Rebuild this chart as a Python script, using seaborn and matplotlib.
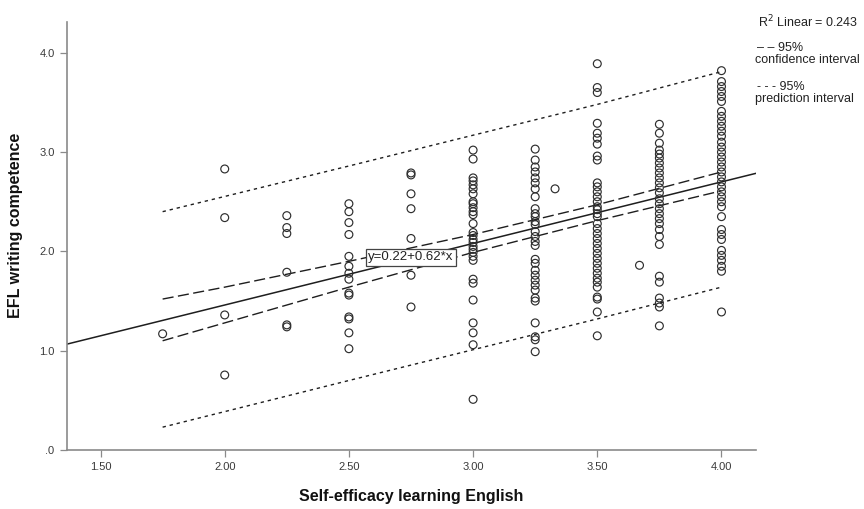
import numpy as np
import pandas as pd
import matplotlib
matplotlib.use("Agg")
import matplotlib.pyplot as plt
import seaborn as sns

# ---------------- data ----------------
x_175 = [1.17]
x_200 = [2.83, 2.34, 1.36, 0.755]
x_225 = [2.36, 2.24, 2.18, 1.79, 1.26, 1.24]
x_250 = [2.48, 2.40, 2.29, 2.17, 1.95, 1.85, 1.78, 1.72, 1.58, 1.56, 1.34, 1.32, 1.18, 1.02]
x_275 = [2.79, 2.77, 2.58, 2.43, 2.13, 1.76, 1.44]
x_300 = [3.02, 2.93, 2.74, 2.71, 2.67, 2.63, 2.58, 2.50, 2.48, 2.44, 2.40, 2.37, 2.28, 2.19,
         2.16, 2.12, 2.09, 2.05, 2.02, 1.99, 1.95, 1.91, 1.72, 1.68, 1.51, 1.28, 1.18, 1.06, 0.51]
x_325 = [3.03, 2.92, 2.85, 2.80, 2.74, 2.69, 2.63, 2.55, 2.43, 2.38, 2.35, 2.30, 2.27, 2.20,
         2.15, 2.10, 2.06, 1.92, 1.88, 1.81, 1.76, 1.71, 1.66, 1.61, 1.53, 1.50, 1.28, 1.14, 1.11, 0.99]
x_333 = [2.63]
x_350 = [3.89, 3.65, 3.60, 3.29, 3.19, 3.14, 3.08, 2.96, 2.92, 2.69, 2.65, 2.60, 2.55, 2.50,
         2.45, 2.42, 2.38, 2.35, 2.28, 2.23, 2.18, 2.13, 2.08, 2.03, 1.98, 1.93, 1.88, 1.83,
         1.78, 1.73, 1.69, 1.64, 1.54, 1.52, 1.39, 1.15]
x_367 = [1.86]
x_375 = [3.28, 3.19, 3.09, 3.02, 2.98, 2.94, 2.89, 2.84, 2.79, 2.74, 2.69, 2.64, 2.59, 2.53,
         2.48, 2.43, 2.38, 2.33, 2.28, 2.22, 2.15, 2.07, 1.75, 1.69, 1.53, 1.48, 1.44, 1.25]
x_400 = [3.82, 3.71, 3.66, 3.61, 3.56, 3.51, 3.41, 3.36, 3.31, 3.26, 3.21, 3.16, 3.10, 3.05,
         3.00, 2.95, 2.90, 2.85, 2.80, 2.75, 2.70, 2.65, 2.60, 2.55, 2.50, 2.45, 2.35, 2.22,
         2.17, 2.12, 2.01, 1.96, 1.91, 1.85, 1.80, 1.39]

efficacy_levels = [1.75, 2.00, 2.25, 2.50, 2.75, 3.00, 3.25, 3.33, 3.50, 3.67, 3.75, 4.00]
writing_by_level = [x_175, x_200, x_225, x_250, x_275, x_300, x_325, x_333, x_350, x_367, x_375, x_400]

# fitted line  y = a + b*x
fit_intercept = 0.22
fit_slope = 0.62
r2_linear = 0.243

# 95% confidence interval for the mean
ci_x = [1.75, 2.00, 2.50, 3.00, 3.50, 4.00]
ci_upper = [1.52, 1.64, 1.90, 2.17, 2.47, 2.80]
ci_lower = [1.10, 1.28, 1.64, 1.99, 2.31, 2.61]

# 95% prediction interval
pi_x = [1.75, 2.50, 3.00, 3.50, 4.00]
pi_upper = [2.40, 2.86, 3.17, 3.48, 3.81]
pi_lower = [0.23, 0.70, 1.01, 1.32, 1.64]

x_ticks = [1.50, 2.00, 2.50, 3.00, 3.50, 4.00]
x_tick_labels = ["1.50", "2.00", "2.50", "3.00", "3.50", "4.00"]
y_ticks = [0, 1, 2, 3, 4]
y_tick_labels = [".0", "1.0", "2.0", "3.0", "4.0"]

x_title = "Self-efficacy learning English"
y_title = "EFL writing competence"

# ---------------- build frames ----------------
rows = []
for lvl, vals in zip(efficacy_levels, writing_by_level):
    for v in vals:
        rows.append((lvl, v))
df = pd.DataFrame(rows, columns=["efficacy", "writing"])

x_min, x_max = 1.365, 4.139
y_min, y_max = 0.0, 4.31

fit_df = pd.DataFrame({"x": [x_min, x_max]})
fit_df["y"] = fit_intercept + fit_slope * fit_df["x"]

# ---------------- style ----------------
sns.set_theme(style="white")
plt.rcParams["font.family"] = ["Liberation Sans", "DejaVu Sans"]
plt.rcParams["lines.scale_dashes"] = False

W, H = 864, 509
fig = plt.figure(figsize=(W / 100, H / 100), dpi=100)
ax = fig.add_axes([67 / W, (H - 450) / H, (756 - 67) / W, (450 - 22) / H])

line_col = "#1e1e1e"
sns.lineplot(data=fit_df, x="x", y="y", ax=ax, color=line_col, linewidth=1.1,
             estimator=None, sort=False)
sns.lineplot(x=ci_x, y=ci_upper, ax=ax, color=line_col, linewidth=1.0,
             estimator=None, sort=False).lines[-1].set_dashes((8, 3.2))
sns.lineplot(x=ci_x, y=ci_lower, ax=ax, color=line_col, linewidth=1.0,
             estimator=None, sort=False).lines[-1].set_dashes((8, 3.2))
sns.lineplot(x=pi_x, y=pi_upper, ax=ax, color=line_col, linewidth=1.0,
             estimator=None, sort=False).lines[-1].set_dashes((2.4, 2.8))
sns.lineplot(x=pi_x, y=pi_lower, ax=ax, color=line_col, linewidth=1.0,
             estimator=None, sort=False).lines[-1].set_dashes((2.4, 2.8))

sns.scatterplot(data=df, x="efficacy", y="writing", ax=ax, s=32, marker="o",
                facecolor="none", edgecolor="#2e2e2e", linewidth=0.85, zorder=3)

ax.set_xlim(x_min, x_max)
ax.set_ylim(y_min, y_max)
ax.set_xticks(x_ticks)
ax.set_xticklabels(x_tick_labels)
ax.set_yticks(y_ticks)
ax.set_yticklabels(y_tick_labels)
ax.set_xlabel("")
ax.set_ylabel("")

for s in ["top", "right"]:
    ax.spines[s].set_visible(False)
for s in ["left", "bottom"]:
    ax.spines[s].set_color("#8a8a8a")
    ax.spines[s].set_linewidth(1.2)
ax.tick_params(axis="both", which="both", direction="out", length=5, width=0.9,
               color="#8a8a8a", labelsize=8, labelcolor="#3a3a3a", pad=4,
               bottom=True, left=True)

# equation label
ax.text(2.75, 1.94, f"y={fit_intercept:.2f}+{fit_slope:.2f}*x", ha="center", va="center",
        fontsize=9.5, color="#222222", zorder=4,
        bbox=dict(boxstyle="square,pad=0.2", facecolor="white", edgecolor="#444444",
                  linewidth=0.9))

# axis titles
fig.text(16 / W, 1 - 225 / H, y_title, rotation=90, ha="center", va="center",
         fontsize=11.5, fontweight="bold", color="#111111")
fig.text(411 / W, 1 - 497 / H, x_title, ha="center", va="center",
         fontsize=11.5, fontweight="bold", color="#111111")

# legend texts on the right
leg_kw = dict(fontsize=9, color="#222222", ha="left", va="center")
fig.text(758 / W, 1 - 22 / H, f"R$^2$ Linear = {r2_linear:.3f}", **leg_kw)
fig.text(757 / W, 1 - 48 / H, "– – 95%", **leg_kw)
fig.text(755 / W, 1 - 60 / H, "confidence interval", **leg_kw)
fig.text(757 / W, 1 - 87 / H, "- - - 95%", **leg_kw)
fig.text(755 / W, 1 - 99 / H, "prediction interval", **leg_kw)

fig.savefig("out.png", dpi=100)
